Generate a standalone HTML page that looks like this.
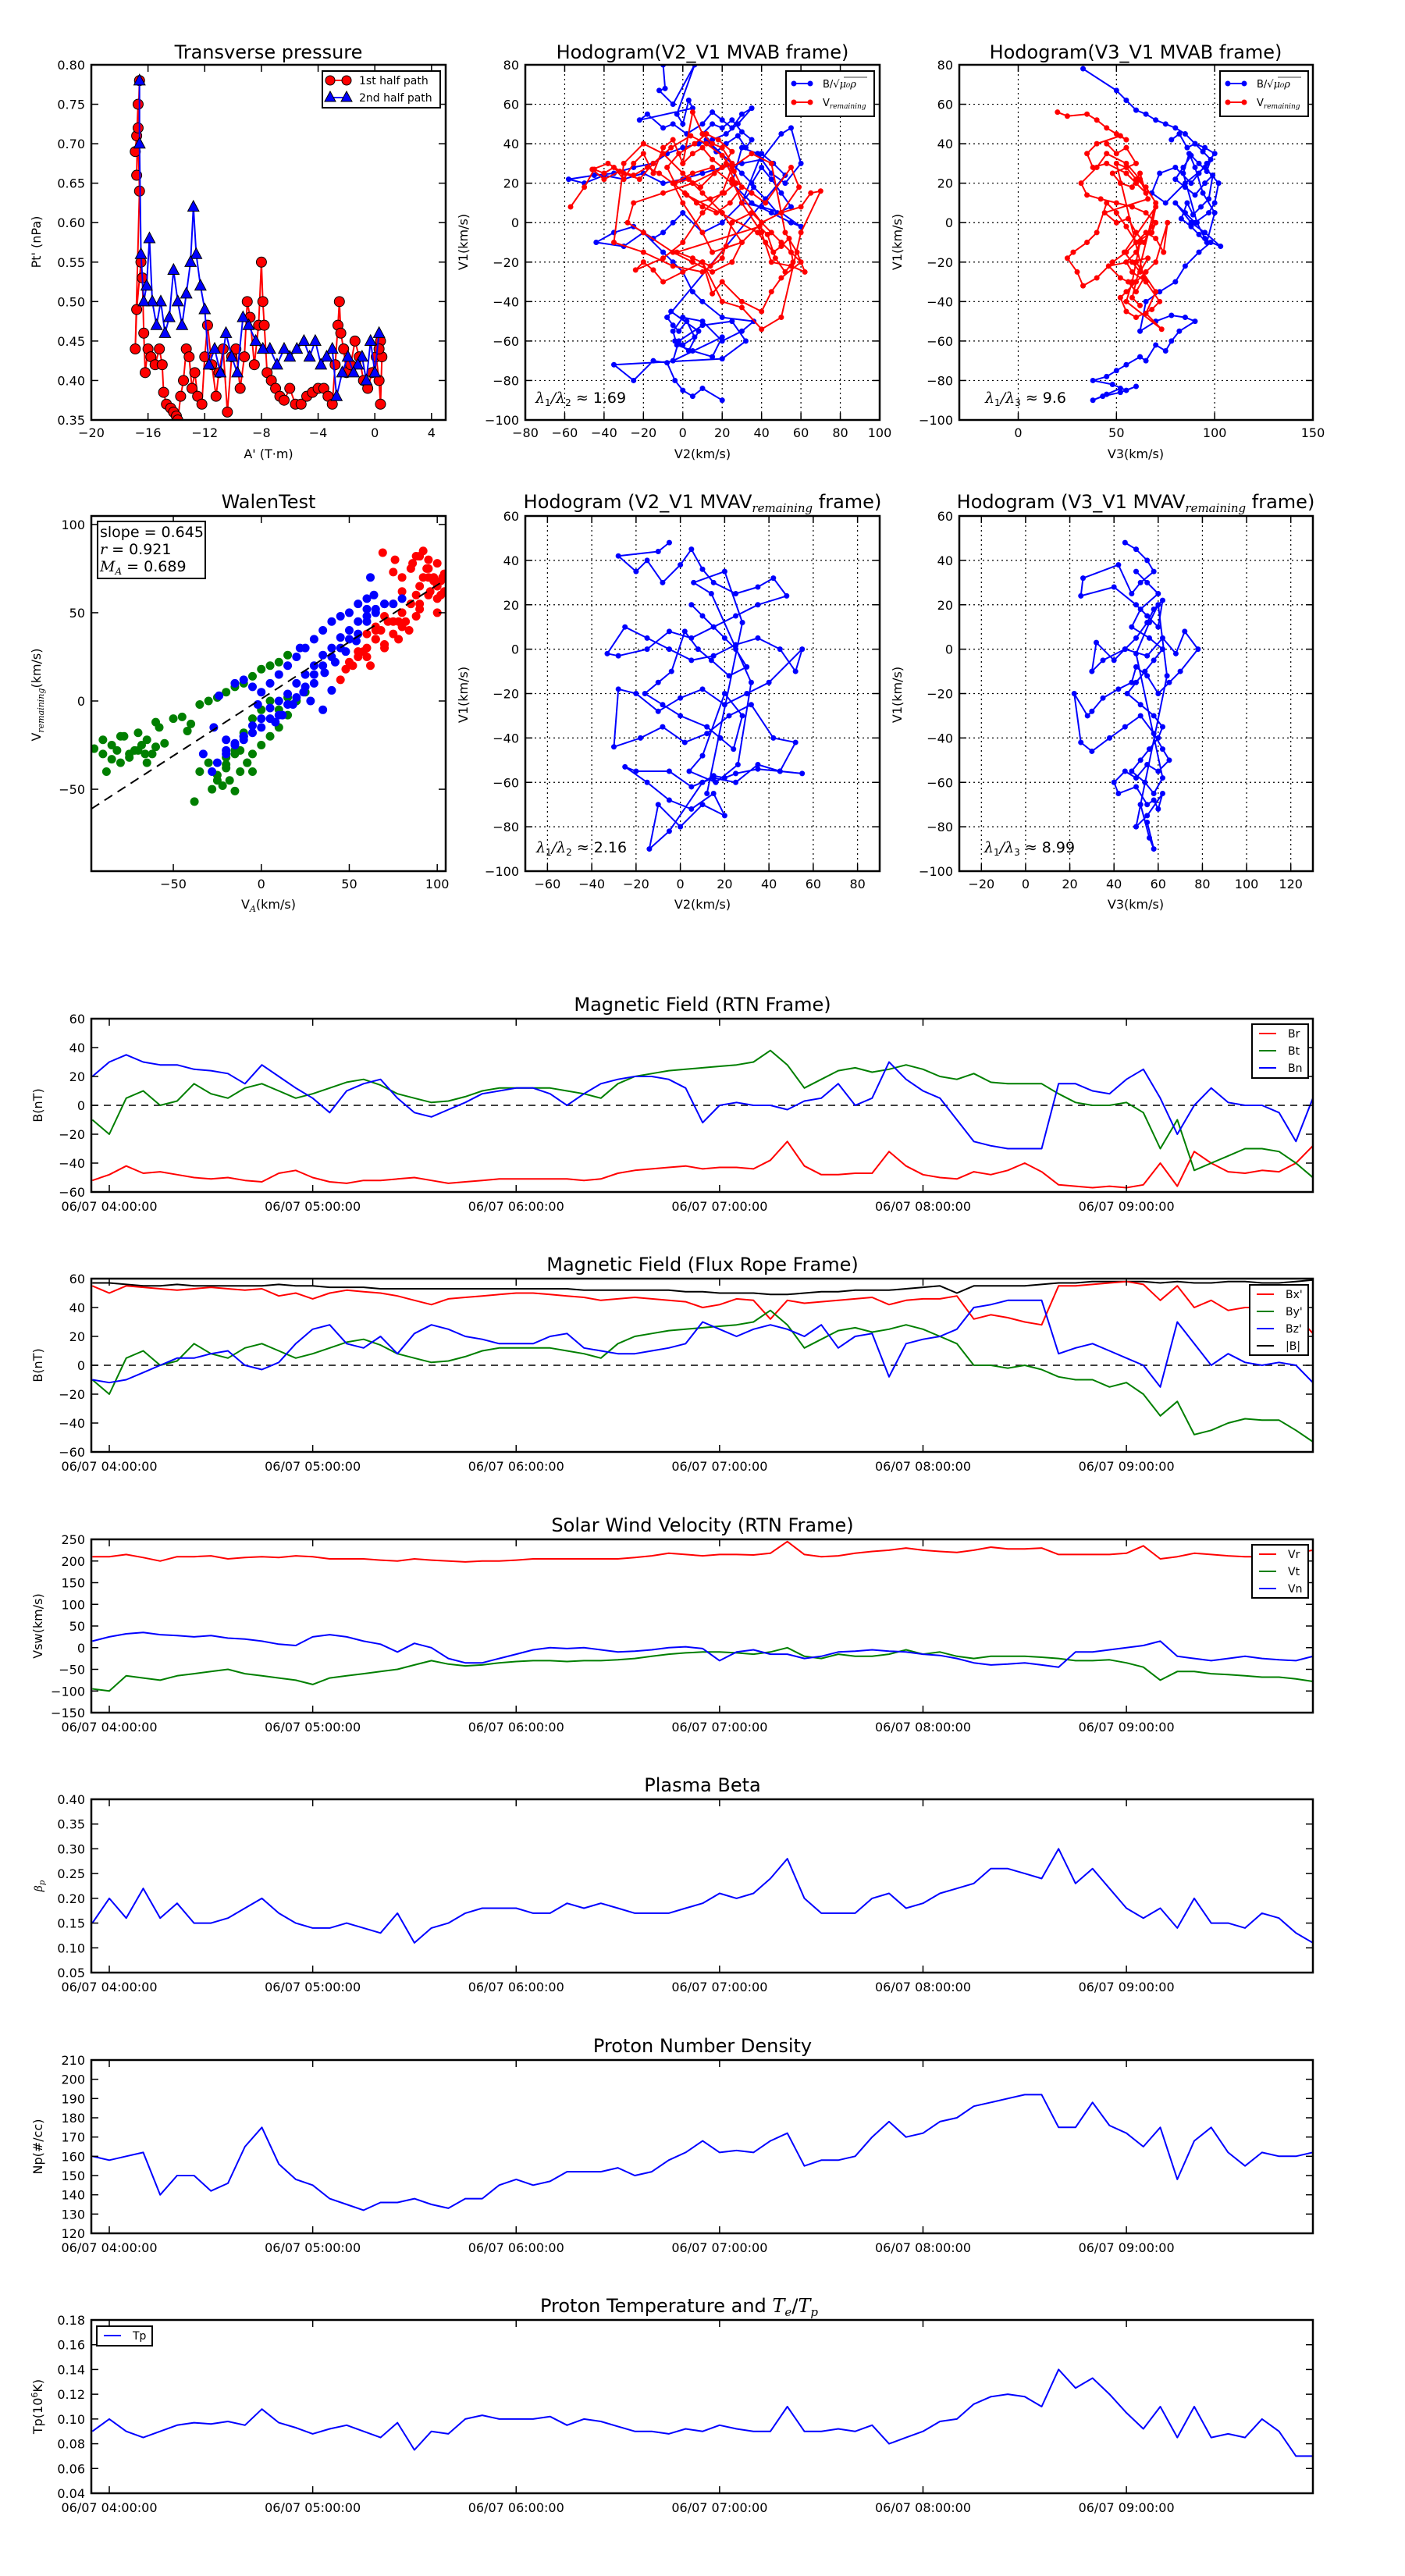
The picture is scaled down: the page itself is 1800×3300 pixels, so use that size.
<!DOCTYPE html>
<html><head><meta charset="utf-8">
<style>
body{margin:0;background:#fff}
svg{display:block;font-family:"DejaVu Sans","Liberation Sans",sans-serif}
</style></head><body>
<svg id="fig" xmlns="http://www.w3.org/2000/svg" width="1800" height="3300" viewBox="0 0 1800 3300">
<rect width="1800" height="3300" fill="#ffffff"/>
</svg>
<script>
// ---------- Transverse pressure ----------
const tpA1=[-16.9,-16.8,-16.7,-16.8,-16.6,-16.7,-16.6,-16.9,-16.8,-16.5,-16.4,-16.3,-16.2,-16.0,-15.8,-15.5,-15.2,-15.0,-14.9,-14.7,-14.4,-14.2,-14.0,-13.9,-13.7,-13.5,-13.3,-13.1,-12.9,-12.7,-12.5,-12.2,-12.0,-11.8,-11.5,-11.2,-11.0,-10.7,-10.4,-10.1,-9.8,-9.5,-9.2,-9.0,-8.8,-8.5,-8.2,-8.0,-7.9,-7.8,-7.6,-7.3,-7.0,-6.7,-6.4,-6.0,-5.6,-5.2,-4.8,-4.4,-4.0,-3.6,-3.3,-3.0,-2.8,-2.6,-2.5,-2.4,-2.2,-2.0,-1.7,-1.4,-1.1,-0.8,-0.5,-0.2,0.1,0.3,0.4,0.5,0.4,0.3];
const tpP1=[0.69,0.71,0.75,0.66,0.78,0.72,0.64,0.44,0.49,0.55,0.53,0.46,0.41,0.44,0.43,0.42,0.44,0.42,0.385,0.37,0.365,0.36,0.355,0.35,0.38,0.40,0.44,0.43,0.39,0.41,0.38,0.37,0.43,0.47,0.42,0.38,0.41,0.44,0.36,0.43,0.44,0.39,0.43,0.50,0.48,0.42,0.47,0.55,0.50,0.47,0.41,0.40,0.39,0.38,0.375,0.39,0.37,0.37,0.38,0.385,0.39,0.39,0.38,0.37,0.42,0.47,0.50,0.46,0.44,0.41,0.42,0.45,0.43,0.40,0.39,0.41,0.43,0.40,0.37,0.43,0.45,0.44];
const tpA2=[0.3,0.0,-0.3,-0.6,-0.9,-1.2,-1.5,-1.9,-2.3,-2.7,-3.0,-3.4,-3.8,-4.2,-4.6,-5.0,-5.5,-6.0,-6.4,-6.9,-7.4,-7.9,-8.4,-8.9,-9.3,-9.7,-10.1,-10.5,-10.9,-11.3,-11.7,-12.0,-12.3,-12.6,-12.8,-13.0,-13.3,-13.6,-13.9,-14.2,-14.5,-14.8,-15.1,-15.4,-15.7,-15.9,-16.1,-16.3,-16.5,-16.6,-16.6];
const tpP2=[0.46,0.41,0.45,0.40,0.43,0.42,0.41,0.43,0.41,0.38,0.44,0.43,0.42,0.45,0.43,0.45,0.44,0.43,0.44,0.42,0.44,0.44,0.45,0.47,0.48,0.41,0.43,0.46,0.41,0.44,0.42,0.49,0.52,0.56,0.62,0.55,0.51,0.47,0.50,0.54,0.48,0.46,0.50,0.47,0.50,0.58,0.52,0.50,0.56,0.70,0.78];
// ---------- Hodogram V2-V1 MVAB ----------
const h1BX=[-10,-9,-12,-5,6,-3,0,3,5,-22,-18,-10,-5,2,10,15,20,25,30,35,28,22,15,8,0,-8,-15,-25,-35,-45,-58,-50,-40,-30,-20,-10,0,10,20,30,40,50,55,60,52,45,38,30,25,35,45,55,60,50,40,30,20,10,0,-5,-10,-15,-25,-35,-44,-30,-20,-10,-5,0,5,10,20,36,30,20,10,0,-5,-3,5,15,20,-5,-2,10,25,32,20,-35,-25,-15,-8,-4,0,5,10,20];
const h1BY=[80,68,67,60,80,55,50,62,58,52,55,48,50,45,50,56,52,48,55,58,50,45,42,40,38,35,30,28,25,24,22,20,24,22,25,20,22,25,28,30,32,45,48,30,20,25,35,38,20,10,5,0,-2,5,8,10,0,-5,5,0,-5,-8,-2,-5,-10,-12,-5,-15,-20,-25,-35,-40,-48,-50,-55,-60,-50,-48,-55,-62,-65,-68,-58,-70,-60,-52,-50,-60,-69,-72,-80,-70,-71,-80,-85,-88,-84,-90];
const h1BX2=[10,15,20,25,30,35,32,28,22,17,12,25,30,35,40,45,50,55,48,42,36,30,40,46,52,-8,-5,-2,2,6,0,-4,3,8,-6];
const h1BY2=[45,50,48,52,46,42,38,44,40,36,42,30,25,20,28,22,15,8,5,12,18,10,35,30,24,-48,-52,-55,-50,-58,-62,-60,-65,-55,-45];
const h1RX=[-57,-50,-45,-40,-35,-30,-25,-20,-15,-10,-5,0,5,10,15,20,25,5,-10,-25,-28,-20,-5,5,15,25,30,20,10,0,-10,-20,-30,-35,-20,-5,10,20,25,35,45,50,55,60,50,45,40,30,20,15,10,0,-10,-15,-20,-24,-10,0,10,20,25,35,45,52,58,62,55,45,40,30,25,35,42,55,59,50,40,30,15,10,0,-5,5,15,25,40,50,60,65,70,60,50,40,30,20,10];
const h1RY=[8,18,27,25,28,22,30,35,25,38,42,30,56,45,40,38,30,20,15,10,0,-5,-15,-20,-25,-20,-10,5,15,25,35,40,30,-10,-15,-22,-25,-18,0,5,-5,-10,-15,-20,-28,-35,-45,-40,-30,-36,-20,-25,-30,-24,-20,-24,-18,-10,5,15,28,35,30,-5,-15,-25,-22,-20,-5,10,22,15,10,28,18,5,0,-10,-15,-5,10,20,25,28,20,0,5,8,15,16,-5,-48,-54,-43,-40,-20];
const h1RX2=[0,5,10,15,20,25,18,12,6,-2,-8,-4,3,9,16,22,27,21,14,7,1,-5,-12,-18,-25,-32,-40,-46,-38,-30,-22,-15,-6,4,12,20,26,30,24,17,10,2,38,42,46,50,54,56,52,47,43,39,-3,5,14,22];
const h1RY2=[30,35,38,32,28,36,42,45,40,35,28,20,22,18,25,30,20,15,12,10,15,20,25,28,24,26,22,27,30,25,22,30,38,44,40,34,26,18,10,5,8,14,-5,-10,-15,-12,-8,-20,-25,-18,-6,-2,-15,-18,-22,-12];
// ---------- Hodogram V3-V1 MVAB ----------
const h2BX=[33,50,55,60,65,70,75,80,85,90,95,100,96,92,88,80,72,68,75,85,95,102,100,97,90,85,80,88,95,103,98,92,85,80,72,65,62,70,78,85,90,82,78,75,70,65,62,55,50,45,38,48,55,60,52,43,38,45,52];
const h2BY=[78,67,62,57,55,52,50,48,45,40,38,35,30,25,20,28,25,15,10,20,28,20,10,5,0,5,10,0,-5,-12,-10,-15,-22,-30,-35,-40,-55,-50,-47,-48,-50,-55,-60,-65,-62,-70,-68,-72,-75,-78,-80,-82,-85,-83,-86,-88,-90,-87,-84];
const h2BX2=[78,82,86,90,94,98,96,92,88,84,80,85,90,95,99,97,93,89,86,83,88,92,96,100,94,90,87,84,91,95];
const h2BY2=[42,45,38,40,36,32,26,30,34,28,22,18,14,20,24,12,8,4,10,2,-2,-6,-10,5,15,28,35,25,0,-8];
const h2RX=[20,25,35,40,45,50,55,52,40,35,38,45,55,60,65,62,55,45,40,32,35,42,50,58,65,70,68,60,55,50,45,40,35,28,25,30,33,40,48,55,60,65,70,74,76,70,65,60,55,52,55,60,68,72,65,58,55,60,62,58,55,73,65,70,60];
const h2RY=[56,54,55,52,48,45,42,44,40,35,28,30,25,20,15,22,30,35,28,20,14,12,10,8,5,0,-5,-10,-2,5,10,-5,-10,-15,-18,-25,-32,-28,-20,-15,-10,-5,-8,-15,0,-20,-25,-30,-35,-38,-45,-48,-44,-40,-30,-25,-20,-15,-10,-30,-40,-54,-46,-35,-20];
const h2RX2=[45,50,55,60,48,52,58,62,66,44,50,56,60,64,68,70,54,58,62,66,46,52,56,60,64,50,55,60,65,70,58,62];
const h2RY2=[40,35,38,30,25,20,18,25,12,5,0,2,-5,-10,-2,8,-15,-20,-25,-18,-22,-28,-30,-35,-28,30,28,22,18,10,-38,-42];
// ---------- Hodograms MVAV ----------
const h3X=[-5,-10,-28,-20,-15,-8,0,5,10,15,25,35,42,48,35,25,15,5,-5,-15,-28,-33,-25,-15,-5,5,15,25,35,45,52,55,40,30,20,10,0,-10,-20,-28,-30,-18,-8,2,12,22,32,42,52,45,35,25,15,5,-5,-20,-25,-15,-5,5,15,20,10,0,-10,-14,-5,10,15,20,25,35,45,55];
const h3Y=[48,44,42,35,40,30,38,45,36,30,25,28,32,24,20,15,10,5,8,0,-3,-2,10,5,0,-5,-3,2,5,0,-10,0,-15,-20,-25,-18,-22,-28,-20,-18,-44,-40,-35,-42,-38,-30,-25,-40,-42,-55,-52,-60,-58,-62,-55,-55,-53,-60,-68,-72,-65,-75,-70,-80,-70,-90,-82,-60,-57,-58,-56,-54,-55,-56];
const h3X2=[5,10,15,20,25,30,22,14,8,2,-4,-10,-16,-8,0,12,18,24,28,20,10,4,16,26,32,14,6,20,28,12];
const h3Y2=[20,15,10,5,0,-8,-12,-5,0,8,-10,-15,-20,-25,-30,-35,-40,-45,-30,-20,-48,-55,-60,-52,-15,25,30,35,12,-65];
const h4X=[45,50,55,58,52,48,42,26,25,40,50,55,60,62,58,55,50,45,40,32,30,35,45,55,62,68,72,78,70,65,60,55,50,48,42,35,30,28,22,25,30,38,45,52,58,62,65,60,55,50,45,40,42,50,55,58,60,62,55,50,52,56,58,55];
const h4Y=[48,45,40,35,30,25,38,32,24,28,20,15,10,22,18,12,5,0,-5,3,-10,-5,0,-3,5,-2,8,0,-10,-15,-20,-12,-8,-15,-18,-22,-28,-30,-20,-42,-46,-40,-35,-30,-38,-45,-50,-55,-52,-58,-55,-60,-65,-62,-70,-68,-72,-65,-75,-80,-70,-85,-90,-78];
const h4X2=[50,55,60,52,48,56,62,58,54,50,46,52,58,62,60,56,52,48,54,58,62,50,56,60,64,52];
const h4Y2=[35,30,25,18,10,5,0,-5,-10,-15,-20,-25,-30,-35,-40,-45,-50,-55,-60,-65,-58,-2,12,20,-12,-70];
// ---------- Walen test ----------
const walGX=[-95,-90,-85,-80,-75,-72,-68,-65,-62,-60,-58,-88,-82,-78,-70,-66,-55,-50,-45,-42,-40,-35,-30,-25,-20,-15,-10,-5,0,5,10,15,-28,-22,-18,-12,-8,-5,0,5,10,15,20,25,-12,-8,-5,-20,-25,-15,-38,-90,-85,-80,-75,-70,-65,-60,-20,-15,-10,-5,0,5,-25,-20,-15,-10,10,15,-30,-35];
const walGY=[-27,-30,-33,-35,-32,-28,-25,-22,-30,-12,-15,-40,-28,-20,-18,-30,-24,-10,-9,-17,-13,-2,0,2,5,8,10,14,18,20,22,26,-50,-48,-45,-40,-35,-30,-25,-20,-15,-8,0,5,-28,-35,-40,-32,-45,-51,-57,-22,-25,-20,-30,-28,-35,-26,-38,-30,-20,-10,-5,0,-42,-36,-28,-18,-5,2,-35,-40];
const walBX=[-28,-25,-20,-15,-10,-5,0,5,10,15,20,25,30,35,40,45,50,55,60,65,70,75,80,-15,-10,-5,0,5,10,15,20,25,30,35,40,45,50,55,60,-33,-27,-24,-20,-10,-2,22,28,35,40,62,64,60,-20,-15,-10,-5,0,5,10,15,20,25,30,35,40,45,50,55,60,65,70,8,12,18,24,30,36,42,48,54];
const walBY=[-40,-35,-30,-25,-22,-18,-15,-10,-8,-2,2,8,15,20,25,30,35,38,45,50,55,55,58,10,12,8,5,10,15,20,25,30,35,40,45,48,50,55,58,-30,-15,3,-22,-20,-2,30,0,-5,6,70,60,52,-28,-24,-20,-14,-10,-4,0,4,10,15,20,26,30,36,40,45,48,52,55,-12,-8,-2,5,10,16,22,28,34];
const walRX=[45,48,52,55,58,60,62,65,68,70,72,75,78,80,82,85,88,90,92,95,98,100,102,104,92,95,88,85,80,76,69,75,90,95,100,60,65,70,78,84,88,96,100,103,50,55,60,65,70,75,80,85,90,95,100,104,86,90,94,98,102,80,75,70,65];
const walRY=[12,18,20,25,28,30,20,35,40,30,45,38,35,50,45,55,60,52,70,75,70,65,68,62,85,80,82,75,70,80,84,73,55,60,50,38,42,32,45,40,48,62,58,70,22,28,25,35,32,45,42,55,65,70,78,72,78,82,75,68,60,62,55,48,40];
const walenFit=[0.645,1.2];
// ---------- Time series (5-min samples starting 03:55) ----------
const T0=-5, DT=5;
const timeTicks=[0,60,120,180,240,300];
const timeLabels=["06/07 04:00:00","06/07 05:00:00","06/07 06:00:00","06/07 07:00:00","06/07 08:00:00","06/07 09:00:00"];
const Br=[-52,-48,-42,-47,-46,-48,-50,-51,-50,-52,-53,-47,-45,-50,-53,-54,-52,-52,-51,-50,-52,-54,-53,-52,-51,-51,-51,-51,-51,-52,-51,-47,-45,-44,-43,-42,-44,-43,-43,-44,-38,-25,-42,-48,-48,-47,-47,-32,-42,-48,-50,-51,-46,-48,-45,-40,-46,-55,-56,-57,-56,-57,-55,-40,-56,-32,-40,-46,-47,-45,-46,-40,-28];
const Bt=[-10,-20,5,10,0,3,15,8,5,12,15,10,5,8,12,16,18,14,8,5,2,3,6,10,12,12,12,12,10,8,5,15,20,22,24,25,26,27,28,30,38,28,12,18,24,26,23,25,28,25,20,18,22,16,15,15,15,8,2,0,0,2,-5,-30,-10,-45,-40,-35,-30,-30,-32,-40,-50];
const Bn=[20,30,35,30,28,28,25,24,22,15,28,20,12,5,-5,10,15,18,5,-5,-8,-3,2,8,10,12,12,8,0,8,15,18,20,20,18,12,-12,0,2,0,0,-3,3,5,15,0,5,30,18,10,5,-10,-25,-28,-30,-30,-30,15,15,10,8,18,25,5,-20,0,12,2,0,0,-5,-25,5];
const Bxp=[55,50,55,54,53,52,53,54,53,52,53,48,50,46,50,52,51,50,48,45,42,46,47,48,49,50,50,49,48,47,45,46,47,46,45,44,40,42,46,45,32,45,43,44,45,46,47,42,45,46,46,48,32,35,33,30,28,55,55,56,57,58,56,45,55,40,45,38,40,40,40,35,22];
const Byp=[-10,-20,5,10,0,3,15,8,5,12,15,10,5,8,12,16,18,14,8,5,2,3,6,10,12,12,12,12,10,8,5,15,20,22,24,25,26,27,28,30,38,28,12,18,24,26,23,25,28,25,20,15,0,0,-2,0,-3,-8,-10,-10,-15,-12,-20,-35,-25,-48,-45,-40,-37,-38,-38,-45,-53];
const Bzp=[-10,-12,-10,-5,0,5,5,8,10,0,-3,2,15,25,28,15,12,20,8,22,28,25,20,18,15,15,15,20,22,12,10,8,8,10,12,15,30,25,20,25,28,25,20,28,12,20,22,-8,15,18,20,25,40,42,45,45,45,8,12,15,10,5,0,-15,30,15,0,8,2,0,2,0,-12];
const Bmag=[57,57,56,55,55,56,55,55,55,55,55,56,55,55,54,54,54,53,53,53,53,53,53,53,53,53,53,53,53,52,52,52,52,52,52,51,51,50,50,50,49,49,50,51,51,52,52,52,53,54,55,50,55,55,55,55,56,57,57,58,58,58,58,57,58,57,57,58,58,57,57,58,59];
const Vr=[210,210,215,208,200,210,210,212,205,208,210,208,212,210,205,205,205,202,200,205,202,200,198,200,200,202,205,205,205,205,205,205,208,212,218,215,212,215,215,214,218,245,215,210,212,218,222,225,230,225,222,220,225,232,228,228,230,215,215,215,215,218,235,205,210,218,215,212,210,210,215,218,225];
const Vt=[-95,-100,-65,-70,-75,-65,-60,-55,-50,-60,-65,-70,-75,-85,-70,-65,-60,-55,-50,-40,-30,-38,-42,-40,-35,-32,-30,-30,-32,-30,-30,-28,-25,-20,-15,-12,-10,-10,-12,-15,-10,0,-20,-25,-15,-20,-20,-15,-5,-15,-10,-20,-25,-20,-20,-20,-22,-25,-30,-30,-28,-35,-45,-75,-55,-55,-60,-62,-65,-68,-68,-72,-78];
const Vn=[15,25,32,35,30,28,25,28,22,20,15,8,5,25,30,25,15,8,-10,10,0,-25,-35,-35,-25,-15,-5,0,-2,0,-5,-10,-8,-5,0,2,-2,-30,-10,-5,-15,-15,-25,-20,-10,-8,-5,-8,-10,-15,-18,-25,-35,-40,-38,-35,-40,-45,-10,-10,-5,0,5,15,-20,-25,-30,-25,-20,-25,-28,-30,-20];
const Beta=[0.15,0.20,0.16,0.22,0.16,0.19,0.15,0.15,0.16,0.18,0.20,0.17,0.15,0.14,0.14,0.15,0.14,0.13,0.17,0.11,0.14,0.15,0.17,0.18,0.18,0.18,0.17,0.17,0.19,0.18,0.19,0.18,0.17,0.17,0.17,0.18,0.19,0.21,0.20,0.21,0.24,0.28,0.20,0.17,0.17,0.17,0.20,0.21,0.18,0.19,0.21,0.22,0.23,0.26,0.26,0.25,0.24,0.30,0.23,0.26,0.22,0.18,0.16,0.18,0.14,0.20,0.15,0.15,0.14,0.17,0.16,0.13,0.11];
const Np=[160,158,160,162,140,150,150,142,146,165,175,156,148,145,138,135,132,136,136,138,135,133,138,138,145,148,145,147,152,152,152,154,150,152,158,162,168,162,163,162,168,172,155,158,158,160,170,178,170,172,178,180,186,188,190,192,192,175,175,188,176,172,165,175,148,168,175,162,155,162,160,160,162];
const Tp=[0.09,0.10,0.09,0.085,0.09,0.095,0.097,0.096,0.098,0.095,0.108,0.097,0.093,0.088,0.092,0.095,0.09,0.085,0.097,0.075,0.09,0.088,0.10,0.103,0.10,0.10,0.10,0.102,0.095,0.10,0.098,0.094,0.09,0.09,0.088,0.092,0.09,0.095,0.092,0.09,0.09,0.11,0.09,0.09,0.092,0.09,0.095,0.08,0.085,0.09,0.098,0.10,0.112,0.118,0.12,0.118,0.11,0.14,0.125,0.133,0.12,0.105,0.092,0.11,0.085,0.11,0.085,0.088,0.085,0.10,0.09,0.07,0.07];

const NS='http://www.w3.org/2000/svg';
const fig=document.getElementById('fig');
function mk(tag,attrs,parent){const e=document.createElementNS(NS,tag);for(const k in attrs)e.setAttribute(k,attrs[k]);(parent||fig).appendChild(e);return e;}
function tx(s,x,y,size,anchor,parent){const e=mk('text',{x:x,y:y,'font-size':size,'text-anchor':anchor||'middle',fill:'#000'},parent);e.textContent=s;return e;}
function ts(parent,s,attrs){const e=mk('tspan',attrs||{},parent);e.textContent=s;return e;}
function fmtNum(v,d){const s=Math.abs(v).toFixed(d);return (v<0?'\u2212':'')+s;}
let clipId=0;

function makeAxes(name,box,xr,yr,o){
  const g=mk('g',{});
  
  
  const sx=v=>box.x0+(v-xr[0])/(xr[1]-xr[0])*(box.x1-box.x0);
  const sy=v=>box.y1-(v-yr[0])/(yr[1]-yr[0])*(box.y1-box.y0);
  const id='clip'+(clipId++);
  const cp=mk('clipPath',{id:id},g);
  mk('rect',{x:box.x0,y:box.y0,width:box.x1-box.x0,height:box.y1-box.y0},cp);
  if(o.grid){
    o.xticks.forEach(v=>{const p=sx(v);if(p>box.x0+1&&p<box.x1-1){const l=mk('line',{x1:p,x2:p,y1:box.y0,y2:box.y1,stroke:'#000','stroke-width':1.2,'stroke-dasharray':'2,4'},g);}});
    o.yticks.forEach(v=>{const p=sy(v);if(p>box.y0+1&&p<box.y1-1){const l=mk('line',{y1:p,y2:p,x1:box.x0,x2:box.x1,stroke:'#000','stroke-width':1.2,'stroke-dasharray':'2,4'},g);}});
  }
  const data=mk('g',{'clip-path':'url(#'+id+')'},g);
  
  
  const over=mk('g',{},g);
  function finish(){
    const xt=mk('g',{},over);
    
    
    o.xticks.forEach((v,i)=>{const p=sx(v);
      mk('line',{x1:p,x2:p,y1:box.y1,y2:box.y1-9,stroke:'#000','stroke-width':1.5},xt);
      mk('line',{x1:p,x2:p,y1:box.y0,y2:box.y0+9,stroke:'#000','stroke-width':1.5},xt);
      const lab=o.xlabels?o.xlabels[i]:o.xfmt(v);
      const t=tx(lab,p,box.y1+(o.xlabDy||22),16,'middle',xt);
      
      
    });
    const yt=mk('g',{},over);
    
    
    o.yticks.forEach(v=>{const p=sy(v);
      mk('line',{y1:p,y2:p,x1:box.x0,x2:box.x0+9,stroke:'#000','stroke-width':1.5},yt);
      mk('line',{y1:p,y2:p,x1:box.x1,x2:box.x1-9,stroke:'#000','stroke-width':1.5},yt);
      const t=tx(o.yfmt(v),box.x0-8,p+6,16,'end',yt);
      
      
    });
    const fr=mk('rect',{x:box.x0,y:box.y0,width:box.x1-box.x0,height:box.y1-box.y0,fill:'none',stroke:'#000','stroke-width':2.5},over);
    
    
  }
  return {sx,sy,g,data,over,finish,box};
}
function polyline(ax,xs,ys,color,w,name){
  const n=Math.min(xs.length,ys.length);let d='';
  for(let i=0;i<n;i++)d+=(i?'L':'M')+ax.sx(xs[i]).toFixed(1)+','+ax.sy(ys[i]).toFixed(1);
  const p=mk('path',{d:d,fill:'none',stroke:color,'stroke-width':w,'stroke-linejoin':'round'},ax.data);
  
  
  return p;
}
function dots(ax,xs,ys,color,r,name,edge){
  const g=mk('g',{},ax.data);
  
  
  const n=Math.min(xs.length,ys.length);
  for(let i=0;i<n;i++){const c=mk('circle',{cx:ax.sx(xs[i]),cy:ax.sy(ys[i]),r:r,fill:color},g);
    if(edge){c.setAttribute('stroke','#000');c.setAttribute('stroke-width',1);}
    
    }
}
function tris(ax,xs,ys,color,s,name){
  const g=mk('g',{},ax.data);
  
  
  const n=Math.min(xs.length,ys.length);
  for(let i=0;i<n;i++){const x=ax.sx(xs[i]),y=ax.sy(ys[i]);
    const t=mk('polygon',{points:`${x},${y-s} ${x-s*0.9},${y+s*0.7} ${x+s*0.9},${y+s*0.7}`,fill:color,stroke:'#000','stroke-width':1},g);
    
    }
}
function title(s,x,y,name){const t=tx(s,x,y,24,'middle');return t;}
function ylab(s,x,y,name){const t=tx(s,x,y,16,'middle');t.setAttribute('transform',`rotate(-90 ${x} ${y})`);return t;}
function range(a,b,s){const r=[];for(let v=a;v<=b+1e-9;v+=s)r.push(+v.toFixed(6));return r;}
function hodoSeries(ax,xs,ys,color,name){polyline(ax,xs,ys,color,2,name+'-line');dots(ax,xs,ys,color,3.5,name);}

const R1={y0:83,y1:538}, R2={y0:661,y1:1116};
// Transverse pressure
{const ax=makeAxes('transverse-pressure-chart',{x0:117,x1:571,y0:R1.y0,y1:R1.y1},[-20,5],[0.35,0.80],
  {xticks:range(-20,4,4),yticks:range(0.35,0.80,0.05),xfmt:v=>fmtNum(v,0),yfmt:v=>v.toFixed(2)});
 polyline(ax,tpA1,tpP1,'#ff0000',2,'first-half-line');
 dots(ax,tpA1,tpP1,'#ff0000',6.5,'first-half-path',true);
 polyline(ax,tpA2,tpP2,'#0000ff',2,'second-half-line');
 tris(ax,tpA2,tpP2,'#0000ff',8,'second-half-path');
 ax.finish();
 title('Transverse pressure',344,75,'transverse-pressure-title');
 ylab("Pt' (nPa)",52,310,'pt-axis-title');
 const xl=tx("A' (T\u00b7m)",344,587,16);
 const lg=mk('g',{});
 mk('rect',{x:413,y:91,width:151,height:47,fill:'#fff',stroke:'#000','stroke-width':2},lg);
 mk('line',{x1:423,x2:444,y1:103,y2:103,stroke:'#ff0000','stroke-width':2},lg);
 mk('circle',{cx:423,cy:103,r:6,fill:'#ff0000',stroke:'#000'},lg);mk('circle',{cx:444,cy:103,r:6,fill:'#ff0000',stroke:'#000'},lg);
 mk('line',{x1:423,x2:444,y1:125,y2:125,stroke:'#0000ff','stroke-width':2},lg);
 [423,444].forEach(x=>mk('polygon',{points:`${x},117 ${x-7},130 ${x+7},130`,fill:'#0000ff',stroke:'#000'},lg));
 tx('1st half path',460,108,14,'start',lg);tx('2nd half path',460,130,14,'start',lg);
}
function hodoLegend(x0,name){
 const lg=mk('g',{});
 mk('rect',{x:x0,y:91,width:113,height:58,fill:'#fff',stroke:'#000','stroke-width':2},lg);
 mk('line',{x1:x0+10,x2:x0+31,y1:107,y2:107,stroke:'#0000ff','stroke-width':2},lg);
 mk('circle',{cx:x0+10,cy:107,r:3.5,fill:'#0000ff'},lg);mk('circle',{cx:x0+31,cy:107,r:3.5,fill:'#0000ff'},lg);
 mk('line',{x1:x0+10,x2:x0+31,y1:131,y2:131,stroke:'#ff0000','stroke-width':2},lg);
 mk('circle',{cx:x0+10,cy:131,r:3.5,fill:'#ff0000'},lg);mk('circle',{cx:x0+31,cy:131,r:3.5,fill:'#ff0000'},lg);
 const t1=tx('B/\u221a',x0+47,112,13,'start',lg);ts(t1,'\u03bc\u2080\u03c1',{'font-family':'DejaVu Serif,serif','font-style':'italic'});
 mk('line',{x1:x0+74,x2:x0+104,y1:99,y2:99,stroke:'#000','stroke-width':0.8},lg);
 const t2=tx('V',x0+47,136,13,'start',lg);ts(t2,'remaining',{'font-size':9,'font-family':'DejaVu Serif,serif','font-style':'italic',dy:3});
}
function lambdaText(x,y,a,b,val,name){
 const t=tx('',x,y,19,'start');
 ts(t,'\u03bb',{'font-family':'DejaVu Serif,serif','font-style':'italic'});ts(t,a,{'font-size':12,dy:4});
 ts(t,'/\u03bb',{'font-family':'DejaVu Serif,serif','font-style':'italic',dy:-4});ts(t,b,{'font-size':12,dy:4});
 ts(t,' \u2248 '+val,{dy:-4});
}
// H1
{const ax=makeAxes('hodogram-v2-v1-mvab',{x0:673,x1:1127,y0:R1.y0,y1:R1.y1},[-80,100],[-100,80],
  {grid:true,xticks:range(-80,100,20),yticks:range(-100,80,20),xfmt:v=>fmtNum(v,0),yfmt:v=>fmtNum(v,0)});
 hodoSeries(ax,h1BX,h1BY,'#0000ff','b-alfven');
 hodoSeries(ax,h1BX2,h1BY2,'#0000ff','b-alfven-cluster');
 hodoSeries(ax,h1RX,h1RY,'#ff0000','v-remaining');
 hodoSeries(ax,h1RX2,h1RY2,'#ff0000','v-remaining-cluster');
 ax.finish();
 title('Hodogram(V2_V1 MVAB frame)',900,75,'hodogram-v2-title');
 ylab('V1(km/s)',599,310,'v1-axis-title');
 const xl=tx('V2(km/s)',900,587,16);
 hodoLegend(1007,'hodogram-v2-legend');
 lambdaText(686,516,'1','2','1.69','eigen-ratio-label');
}
// H2
{const ax=makeAxes('hodogram-v3-v1-mvab',{x0:1229,x1:1682,y0:R1.y0,y1:R1.y1},[-30,150],[-100,80],
  {grid:true,xticks:[0,50,100,150],yticks:range(-100,80,20),xfmt:v=>fmtNum(v,0),yfmt:v=>fmtNum(v,0)});
 hodoSeries(ax,h2BX,h2BY,'#0000ff','b-alfven');
 hodoSeries(ax,h2BX2,h2BY2,'#0000ff','b-alfven-cluster');
 hodoSeries(ax,h2RX,h2RY,'#ff0000','v-remaining');
 hodoSeries(ax,h2RX2,h2RY2,'#ff0000','v-remaining-cluster');
 ax.finish();
 title('Hodogram(V3_V1 MVAB frame)',1455,75,'hodogram-v3-title');
 ylab('V1(km/s)',1155,310,'v1-axis-title');
 const xl=tx('V3(km/s)',1455,587,16);
 hodoLegend(1563,'hodogram-v3-legend');
 lambdaText(1262,516,'1','3','9.6','eigen-ratio-label');
}
// Walen
{const ax=makeAxes('walen-test-chart',{x0:117,x1:571,y0:R2.y0,y1:R2.y1},[-96.6,104.8],[-96.4,104.8],
  {xticks:[-50,0,50,100],yticks:[-50,0,50,100],xfmt:v=>fmtNum(v,0),yfmt:v=>fmtNum(v,0)});
 dots(ax,walRX,walRY,'#ff0000',5.5,'walen-red-points');
 dots(ax,walGX,walGY,'#007f00',5.5,'walen-green-points');
 dots(ax,walBX,walBY,'#0000ff',5.5,'walen-blue-points');
 const fx=[-96.6,104.8];const fy=fx.map(v=>walenFit[0]*v+walenFit[1]);
 const fl=polyline(ax,fx,fy,'#000',2,'walen-fit-line');fl.setAttribute('stroke-dasharray','12,8');
 ax.finish();
 title('WalenTest',344,651,'walen-title');
 const yl=tx('',52,890,16);yl.setAttribute('transform','rotate(-90 52 890)');
 ts(yl,'V');ts(yl,'remaining',{'font-size':11,'font-family':'DejaVu Serif,serif','font-style':'italic',dy:4});ts(yl,'(km/s)',{dy:-4});
 const xl=tx('',344,1164,16);
 ts(xl,'V');ts(xl,'A',{'font-size':11,'font-family':'DejaVu Serif,serif','font-style':'italic',dy:4});ts(xl,'(km/s)',{dy:-4});
 const bx=mk('g',{});
 mk('rect',{x:125,y:668,width:138,height:73,fill:'#fff',stroke:'#000','stroke-width':2},bx);
 tx('slope = 0.645',128,688,19,'start',bx);
 const r=tx('',128,710,19,'start',bx);ts(r,'r',{'font-family':'DejaVu Serif,serif','font-style':'italic'});ts(r,' = 0.921');
 const m=tx('',128,732,19,'start',bx);ts(m,'M',{'font-family':'DejaVu Serif,serif','font-style':'italic'});ts(m,'A',{'font-size':12,'font-family':'DejaVu Serif,serif','font-style':'italic',dy:4});ts(m,' = 0.689',{dy:-4});
}
function titleSub(pre,sub,post,x,y,name){
 const t=tx('',x,y,24,'middle');
 ts(t,pre);ts(t,sub,{'font-size':15,'font-family':'DejaVu Serif,serif','font-style':'italic',dy:5});ts(t,post,{dy:-5});
}
// H3
{const ax=makeAxes('hodogram-v2-v1-mvav',{x0:673,x1:1127,y0:R2.y0,y1:R2.y1},[-70,90],[-100,60],
  {grid:true,xticks:range(-60,80,20),yticks:range(-100,60,20),xfmt:v=>fmtNum(v,0),yfmt:v=>fmtNum(v,0)});
 hodoSeries(ax,h3X,h3Y,'#0000ff','b-alfven');
 hodoSeries(ax,h3X2,h3Y2,'#0000ff','b-alfven-cluster');
 ax.finish();
 titleSub('Hodogram (V2_V1 MVAV','remaining',' frame)',900,651,'hodogram-v2-mvav-title');
 ylab('V1(km/s)',599,890,'v1-axis-title');
 const xl=tx('V2(km/s)',900,1164,16);
 lambdaText(687,1092,'1','2','2.16','eigen-ratio-label');
}
// H4
{const ax=makeAxes('hodogram-v3-v1-mvav',{x0:1229,x1:1682,y0:R2.y0,y1:R2.y1},[-30,130],[-100,60],
  {grid:true,xticks:range(-20,120,20),yticks:range(-100,60,20),xfmt:v=>fmtNum(v,0),yfmt:v=>fmtNum(v,0)});
 hodoSeries(ax,h4X,h4Y,'#0000ff','b-alfven');
 hodoSeries(ax,h4X2,h4Y2,'#0000ff','b-alfven-cluster');
 ax.finish();
 titleSub('Hodogram (V3_V1 MVAV','remaining',' frame)',1455,651,'hodogram-v3-mvav-title');
 ylab('V1(km/s)',1155,890,'v1-axis-title');
 const xl=tx('V3(km/s)',1455,1164,16);
 lambdaText(1261,1092,'1','3','8.99','eigen-ratio-label');
}
// ===== Time series =====
function tsPanel(name,top,yr,yticks,yfmt,series,legend,zero){
 const box={x0:117,x1:1682,y0:top,y1:top+222};
 const ax=makeAxes(name,box,[-5.3,355],yr,{xticks:timeTicks,xlabels:timeLabels,xlabDy:24,yticks:yticks,yfmt:yfmt});
 if(zero){const z=mk('line',{x1:box.x0,x2:box.x1,y1:ax.sy(0),y2:ax.sy(0),stroke:'#000','stroke-width':1.5,'stroke-dasharray':'9,7'},ax.data);}
 series.forEach(s=>{const xs=s.data.map((v,i)=>T0+i*DT);polyline(ax,xs,s.data,s.color,2,s.name);});
 ax.finish();
 if(legend){
  const lg=mk('g',{});
  mk('rect',{x:legend.x,y:legend.y,width:legend.w,height:legend.h,fill:'#fff',stroke:'#000','stroke-width':2},lg);
  legend.items.forEach((it,i)=>{const y=legend.y+legend.first+i*legend.step;
   mk('line',{x1:legend.x+9,x2:legend.x+31,y1:y,y2:y,stroke:it[1],'stroke-width':2},lg);
   tx(it[0],legend.x+legend.tx,y+5,14,'start',lg);});
 }
 return ax;
}
const P=[1305,1638,1972,2305,2639,2972];
tsPanel('magnetic-field-rtn-chart',P[0],[-60,60],range(-60,60,20),v=>fmtNum(v,0),
 [{data:Br,color:'#ff0000',name:'br-line'},{data:Bt,color:'#007f00',name:'bt-line'},{data:Bn,color:'#0000ff',name:'bn-line'}],
 {x:1604,y:1312,w:72,h:69,first:12,step:22,tx:46,items:[['Br','#ff0000'],['Bt','#007f00'],['Bn','#0000ff']]},true);
title('Magnetic Field (RTN Frame)',900,P[0]-10,'magnetic-field-rtn-title');ylab('B(nT)',54,P[0]+111,'b-axis-title');
tsPanel('magnetic-field-flux-rope-chart',P[1],[-60,60],range(-60,60,20),v=>fmtNum(v,0),
 [{data:Bmag,color:'#000',name:'bmag-line'},{data:Bxp,color:'#ff0000',name:'bx-prime-line'},{data:Byp,color:'#007f00',name:'by-prime-line'},{data:Bzp,color:'#0000ff',name:'bz-prime-line'}],
 {x:1601,y:1646,w:75,h:90,first:12,step:22,tx:46,items:[["Bx'",'#ff0000'],["By'",'#007f00'],["Bz'",'#0000ff'],['|B|','#000']]},true);
title('Magnetic Field (Flux Rope Frame)',900,P[1]-10,'magnetic-field-flux-rope-title');ylab('B(nT)',54,P[1]+111,'b-axis-title');
tsPanel('solar-wind-velocity-chart',P[2],[-150,250],range(-150,250,50),v=>fmtNum(v,0),
 [{data:Vr,color:'#ff0000',name:'vr-line'},{data:Vt,color:'#007f00',name:'vt-line'},{data:Vn,color:'#0000ff',name:'vn-line'}],
 {x:1604,y:1979,w:72,h:68,first:12,step:22,tx:46,items:[['Vr','#ff0000'],['Vt','#007f00'],['Vn','#0000ff']]},false);
title('Solar Wind Velocity (RTN Frame)',900,P[2]-10,'solar-wind-velocity-title');ylab('Vsw(km/s)',54,P[2]+111,'vsw-axis-title');
tsPanel('plasma-beta-chart',P[3],[0.05,0.40],range(0.05,0.40,0.05),v=>v.toFixed(2),
 [{data:Beta,color:'#0000ff',name:'beta-line'}],null,false);
title('Plasma Beta',900,P[3]-10,'plasma-beta-title');
{const t=tx('',54,P[3]+111,14);t.setAttribute('transform',`rotate(-90 54 ${P[3]+111})`);
 ts(t,'\u03b2',{'font-family':'DejaVu Serif,serif','font-style':'italic'});ts(t,'p',{'font-size':10,'font-family':'DejaVu Serif,serif','font-style':'italic',dy:3});}
tsPanel('proton-density-chart',P[4],[120,210],range(120,210,10),v=>v.toFixed(0),
 [{data:Np,color:'#0000ff',name:'np-line'}],null,false);
title('Proton Number Density',900,P[4]-10,'proton-density-title');ylab('Np(#/cc)',54,P[4]+111,'np-axis-title');
tsPanel('proton-temperature-chart',P[5],[0.04,0.18],range(0.04,0.18,0.02),v=>v.toFixed(2),
 [{data:Tp,color:'#0000ff',name:'tp-line'}],
 {x:124,y:2980,w:71,h:25,first:12,step:22,tx:46,items:[['Tp','#0000ff']]},false);
{const t=tx('Proton Temperature and ',870,P[5]-10,24);
 ts(t,'T',{'font-family':'DejaVu Serif,serif','font-style':'italic'});ts(t,'e',{'font-size':15,'font-family':'DejaVu Serif,serif','font-style':'italic',dy:5});
 ts(t,'/',{dy:-5});ts(t,'T',{'font-family':'DejaVu Serif,serif','font-style':'italic'});ts(t,'p',{'font-size':15,'font-family':'DejaVu Serif,serif','font-style':'italic',dy:5});}
{const t=tx('Tp(10',54,P[5]+111,16);t.setAttribute('transform',`rotate(-90 54 ${P[5]+111})`);
 ts(t,'6',{'font-size':11,dy:-6});ts(t,'K)',{dy:6});}
</script>
</body></html>
